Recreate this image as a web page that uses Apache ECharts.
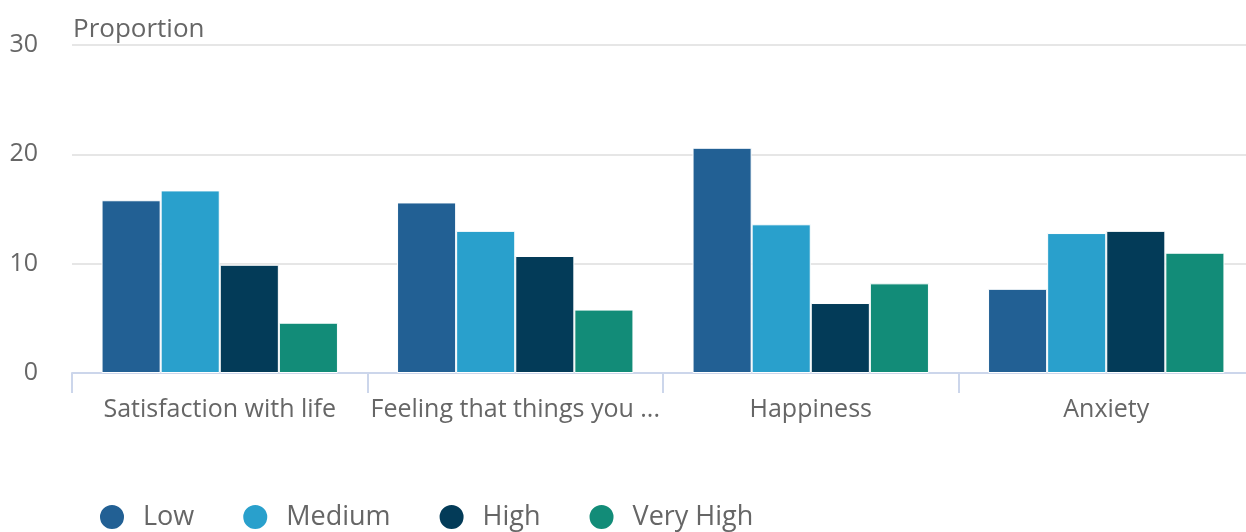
<!DOCTYPE html>
<html>
<head>
<meta charset="utf-8">
<script src="https://cdn.jsdelivr.net/npm/echarts@6/dist/echarts.min.js"></script>
<style>
  html, body { margin: 0; padding: 0; background: #fff; overflow: hidden; }
  #main { width: 1254px; height: 532px; }
</style>
</head>
<body>
<div id="main"></div>
<script>
// data
var categories = ['Satisfaction with life', 'Feeling that things you ...', 'Happiness', 'Anxiety'];
var seriesNames = ['Low', 'Medium', 'High', 'Very High'];
var lowData = [15.8, 15.6, 20.6, 7.7];
var mediumData = [16.7, 13.0, 13.6, 12.8];
var highData = [9.9, 10.7, 6.4, 13.0];
var veryHighData = [4.6, 5.8, 8.2, 11.0];
var yTicks = [0, 10, 20, 30];

var colors = ['#226094', '#29a0cc', '#033b58', '#128c78'];

(function(){
    // the plot runs a little past the right edge of the window, like the original
    var chart = echarts.init(document.getElementById('main'));
    var font = '"Open Sans", sans-serif';
    var allData = [lowData, mediumData, highData, veryHighData];

    var series = seriesNames.map(function(name, i){
        return {
            name: name,
            type: 'bar',
            data: allData[i],
            barGap: 0,
            barCategoryGap: '20%',
            itemStyle: {
                color: colors[i],
                borderColor: '#ffffff',
                borderWidth: 1
            }
        };
    });

    var option = {
        animation: false,
        textStyle: { fontFamily: font },
        title: {
            text: 'Proportion',
            left: 68,
            top: 12,
            textStyle: { fontFamily: font, fontSize: 26, fontWeight: 'normal', color: '#666666' }
        },
        legend: {
            data: seriesNames,
            left: 93,
            top: 498,
            icon: 'circle',
            itemWidth: 26,
            itemHeight: 26,
            itemGap: 47,
            textStyle: { fontFamily: font, fontSize: 27, color: '#666666', padding: [0, 0, 0, 13] }
        },
        grid: {
            left: 72,
            top: 45,
            right: 0,
            bottom: 159
        },
        xAxis: {
            type: 'category',
            data: categories,
            axisLine: { lineStyle: { color: '#ccd6eb', width: 2 } },
            axisTick: { show: true, length: 20, lineStyle: { color: '#ccd6eb', width: 2 } },
            axisLabel: { fontFamily: font, fontSize: 25, color: '#666666', margin: 24, interval: 0 }
        },
        yAxis: {
            type: 'value',
            min: yTicks[0],
            max: yTicks[yTicks.length - 1],
            interval: 10,
            axisLine: { show: false },
            axisTick: { show: false },
            splitLine: { lineStyle: { color: '#e6e6e6', width: 2 } },
            axisLabel: { fontFamily: font, fontSize: 25, color: '#666666', margin: 34 }
        },
        series: series
    };

    chart.setOption(option);
})();
</script>
</body>
</html>
